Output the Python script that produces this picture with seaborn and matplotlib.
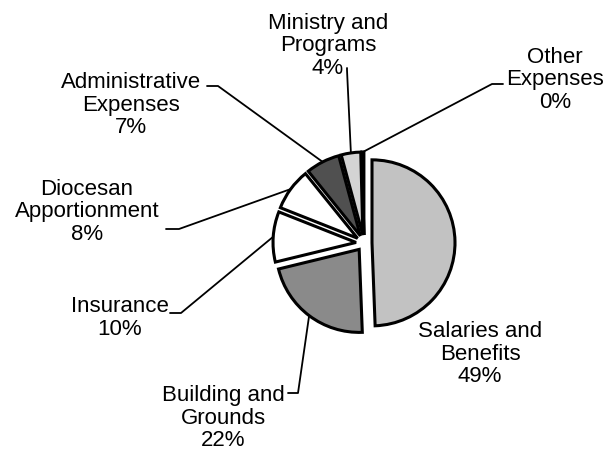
import numpy as np
import matplotlib
matplotlib.use("Agg")
import matplotlib.pyplot as plt
import seaborn as sns

# expense shares, clockwise from 12 o'clock
categories = ["Salaries and\nBenefits", "Building and\nGrounds", "Insurance",
              "Diocesan\nApportionment", "Administrative\nExpenses",
              "Ministry and\nPrograms", "Other\nExpenses"]
values = [49.4, 21.8, 9.8, 8.2, 6.6, 3.8, 0.4]
pct_labels = ["49%", "22%", "10%", "8%", "7%", "4%", "0%"]

colors = ["#c2c2c2", "#8a8a8a", "#ffffff", "#ffffff", "#505050", "#d4d4d4", "#000000"]
# offsets are in pixel units because the axes works in pixels
explode = [8, 8, 8, 8, 8, 8, 8]

# label block centres and leader anchor points (pixel coords, y down)
label_pos = [(480, 354), (223, 418), (120, 318), (87, 212), (131, 105), (328, 46), (555, 80)]
leader_start = [None, [(288, 393), (298, 393)], [(170, 313), (181, 313)],
                [(166, 229), (179, 229)], [(207, 86), (218, 86)],
                [(347, 68), (347, 70)], [(503, 84), (492, 84)]]

sns.set_theme(style="white")
plt.rcParams["font.family"] = ["Liberation Sans", "DejaVu Sans"]

fig = plt.figure(figsize=(6.1, 4.55), dpi=100)
ax = fig.add_axes([0, 0, 1, 1])

center = (364, 243)
radius = 83
wedges, _ = ax.pie(values, colors=colors, explode=explode, startangle=-90,
                   counterclock=True, center=center, radius=radius,
                   wedgeprops=dict(edgecolor="black", linewidth=2.2))

for i, w in enumerate(wedges):
    tx, ty = label_pos[i]
    ax.text(tx, ty, f"{categories[i]}\n{pct_labels[i]}", ha="center", va="center",
            fontsize=16, linespacing=1.12, color="black")
    if leader_start[i] is None:
        continue
    mid = np.deg2rad((w.theta1 + w.theta2) / 2)
    cx, cy = w.center
    end = (cx + radius * np.cos(mid), cy + radius * np.sin(mid))
    pts = leader_start[i] + [end]
    xs, ys = zip(*pts)
    ax.plot(xs, ys, color="black", linewidth=1.3)

# pie() sets its own limits, so fix the pixel frame afterwards
ax.set_xlim(0, 610)
ax.set_ylim(455, 0)
ax.set_aspect("equal")
ax.axis("off")

fig.savefig("out.png", dpi=100, facecolor="white")
